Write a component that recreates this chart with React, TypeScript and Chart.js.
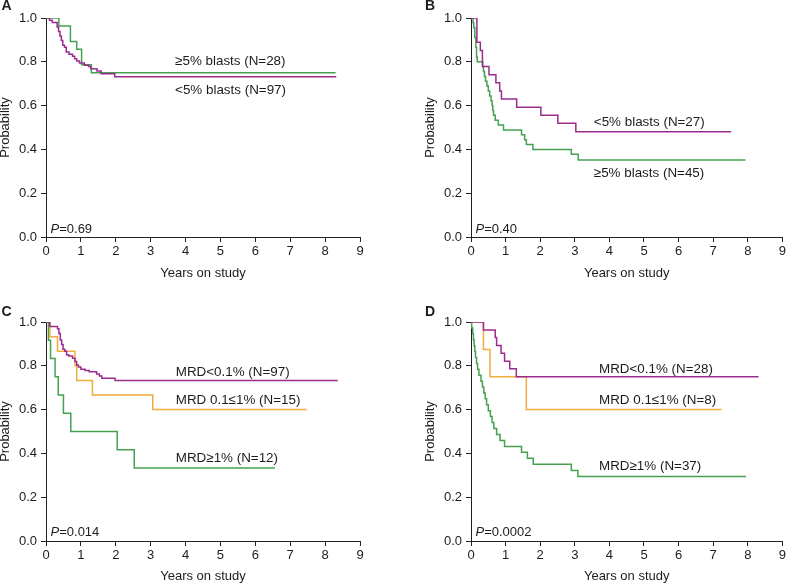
import React, { useEffect, useRef } from "react";
import { Chart, registerables } from "chart.js";

Chart.register(...registerables);

const FONT = '"Liberation Sans", Arial, Helvetica, sans-serif';
const TEXT = "#1c1c1c";
const MAGENTA = "#9b2b8d";
const GREEN = "#45a150";
const ORANGE = "#efab3d";

// ---------- data (years, survival probability) ----------
// Panel A
const aHighTimes = [0, 0.37, 0.7, 0.88, 1.02, 1.3, 8.3];
const aHighSurv = [1, 0.964, 0.893, 0.857, 0.786, 0.75, 0.75];
const aLowTimes = [0, 0.1, 0.18, 0.32, 0.36, 0.4, 0.44, 0.48, 0.53, 0.58, 0.66, 0.76, 0.82, 0.88, 0.96, 1.1, 1.22, 1.28, 1.46, 1.58, 1.97, 8.32];
const aLowSurv = [1, 0.99, 0.979, 0.959, 0.938, 0.918, 0.897, 0.876, 0.866, 0.845, 0.835, 0.825, 0.814, 0.804, 0.794, 0.784, 0.778, 0.768, 0.758, 0.745, 0.732, 0.732];

// Panel B
const bLowTimes = [0, 0.17, 0.27, 0.33, 0.52, 0.72, 0.83, 0.88, 1.32, 2.02, 2.51, 3.03, 7.52];
const bLowSurv = [1, 0.889, 0.852, 0.778, 0.741, 0.704, 0.667, 0.63, 0.593, 0.556, 0.519, 0.481, 0.481];
const bHighTimes = [0, 0.06, 0.08, 0.11, 0.14, 0.16, 0.18, 0.34, 0.36, 0.39, 0.42, 0.46, 0.5, 0.54, 0.58, 0.61, 0.63, 0.65, 0.7, 0.79, 0.94, 1.46, 1.55, 1.6, 1.79, 2.9, 3.1, 7.93];
const bHighSurv = [1, 0.978, 0.956, 0.911, 0.867, 0.822, 0.8, 0.778, 0.756, 0.733, 0.711, 0.689, 0.667, 0.644, 0.622, 0.6, 0.578, 0.556, 0.533, 0.511, 0.489, 0.467, 0.444, 0.422, 0.4, 0.378, 0.352, 0.352];

// Panel C
const cLowTimes = [0, 0.11, 0.33, 0.37, 0.41, 0.45, 0.49, 0.54, 0.59, 0.65, 0.76, 0.83, 0.88, 0.93, 1.0, 1.12, 1.24, 1.45, 1.53, 1.6, 1.98, 8.36];
const cLowSurv = [1, 0.98, 0.969, 0.948, 0.918, 0.897, 0.876, 0.866, 0.851, 0.845, 0.835, 0.82, 0.804, 0.794, 0.784, 0.778, 0.773, 0.763, 0.753, 0.743, 0.733, 0.733];
const cMidTimes = [0, 0.11, 0.33, 0.83, 0.88, 1.33, 3.06, 7.47];
const cMidSurv = [1, 0.933, 0.867, 0.8, 0.733, 0.667, 0.6, 0.6];
const cHighTimes = [0, 0.07, 0.13, 0.26, 0.35, 0.5, 0.71, 2.04, 2.53, 6.56];
const cHighSurv = [1, 0.917, 0.833, 0.75, 0.667, 0.583, 0.5, 0.417, 0.333, 0.333];

// Panel D
const dLowTimes = [0, 0.36, 0.7, 0.74, 0.87, 0.97, 1.12, 1.31, 8.31];
const dLowSurv = [1, 0.964, 0.929, 0.893, 0.857, 0.821, 0.786, 0.75, 0.75];
const dMidTimes = [0, 0.36, 0.55, 1.6, 7.24];
const dMidSurv = [1, 0.875, 0.75, 0.6, 0.6];
const dHighTimes = [0, 0.02, 0.05, 0.07, 0.09, 0.11, 0.13, 0.16, 0.19, 0.23, 0.29, 0.33, 0.37, 0.41, 0.45, 0.5, 0.56, 0.61, 0.66, 0.74, 0.84, 0.97, 1.46, 1.63, 1.8, 2.9, 3.09, 7.95];
const dHighSurv = [1, 0.973, 0.946, 0.919, 0.892, 0.865, 0.838, 0.811, 0.784, 0.757, 0.73, 0.703, 0.676, 0.649, 0.622, 0.595, 0.568, 0.541, 0.514, 0.486, 0.459, 0.432, 0.405, 0.378, 0.351, 0.322, 0.295, 0.295];

// axis
const xMin = 0;
const xMax = 9;
const xStep = 1;
const yMin = 0;
const yMax = 1;
const yStep = 0.2;
const xTitle = "Years on study";
const yTitle = "Probability";

type Series = { times: number[]; surv: number[]; color: string };
type Label = { text: string; x: number; y: number };
type PanelCfg = {
  left: number;
  top: number;
  padL: number;
  padR: number;
  padT: number;
  xHeight: number;
  xTitlePad: number;
  letter: string;
  letterX: number;
  letterY: number;
  series: Series[];
  labels: Label[];
  p: { value: string; x: number; y: number };
};

const panels: PanelCfg[] = [
  {
    left: 0, top: 0, padL: 0, padR: 34, padT: 18, xHeight: 55, xTitlePad: 11,
    letter: "A", letterX: 1.5, letterY: 10,
    series: [
      { times: aLowTimes, surv: aLowSurv, color: MAGENTA },
      { times: aHighTimes, surv: aHighSurv, color: GREEN },
    ],
    labels: [
      { text: "≥5% blasts (N=28)", x: 3.7, y: 0.8 },
      { text: "<5% blasts (N=97)", x: 3.7, y: 0.671 },
    ],
    p: { value: "0.69", x: 0.13, y: 0.035 },
  },
  {
    left: 394, top: 0, padL: 31, padR: 4, padT: 18, xHeight: 55, xTitlePad: 11,
    letter: "B", letterX: 31, letterY: 10,
    series: [
      { times: bLowTimes, surv: bLowSurv, color: MAGENTA },
      { times: bHighTimes, surv: bHighSurv, color: GREEN },
    ],
    labels: [
      { text: "<5% blasts (N=27)", x: 3.55, y: 0.524 },
      { text: "≥5% blasts (N=45)", x: 3.55, y: 0.291 },
    ],
    p: { value: "0.40", x: 0.13, y: 0.035 },
  },
  {
    left: 0, top: 292, padL: 0, padR: 34, padT: 30, xHeight: 43, xTitlePad: 0,
    letter: "C", letterX: 1.5, letterY: 24,
    series: [
      { times: cLowTimes, surv: cLowSurv, color: MAGENTA },
      { times: cMidTimes, surv: cMidSurv, color: ORANGE },
      { times: cHighTimes, surv: cHighSurv, color: GREEN },
    ],
    labels: [
      { text: "MRD<0.1% (N=97)", x: 3.72, y: 0.772 },
      { text: "MRD 0.1≤1% (N=15)", x: 3.72, y: 0.642 },
      { text: "MRD≥1% (N=12)", x: 3.72, y: 0.379 },
    ],
    p: { value: "0.014", x: 0.13, y: 0.041 },
  },
  {
    left: 394, top: 292, padL: 31, padR: 4, padT: 30, xHeight: 43, xTitlePad: 0,
    letter: "D", letterX: 31, letterY: 24,
    series: [
      { times: dLowTimes, surv: dLowSurv, color: MAGENTA },
      { times: dMidTimes, surv: dMidSurv, color: ORANGE },
      { times: dHighTimes, surv: dHighSurv, color: GREEN },
    ],
    labels: [
      { text: "MRD<0.1% (N=28)", x: 3.7, y: 0.784 },
      { text: "MRD 0.1≤1% (N=8)", x: 3.7, y: 0.642 },
      { text: "MRD≥1% (N=37)", x: 3.7, y: 0.341 },
    ],
    p: { value: "0.0002", x: 0.13, y: 0.041 },
  },
];

function KMPanel({ cfg }: { cfg: PanelCfg }) {
  const ref = useRef<HTMLCanvasElement>(null);
  useEffect(() => {
    const canvas = ref.current;
    if (!canvas) return;
    const textPlugin = {
      id: "kmText" + cfg.letter,
      afterDraw(chart: any) {
        const { ctx } = chart;
        const xs = chart.scales.x;
        const ys = chart.scales.y;
        ctx.save();
        ctx.fillStyle = TEXT;
        ctx.textAlign = "left";
        ctx.textBaseline = "middle";
        ctx.font = `13.4px ${FONT}`;
        for (const l of cfg.labels) {
          ctx.fillText(l.text, xs.getPixelForValue(l.x), ys.getPixelForValue(l.y));
        }
        const px = xs.getPixelForValue(cfg.p.x);
        const py = ys.getPixelForValue(cfg.p.y);
        ctx.font = `italic 13px ${FONT}`;
        ctx.fillText("P", px, py);
        const w = ctx.measureText("P").width;
        ctx.font = `13px ${FONT}`;
        ctx.fillText("=" + cfg.p.value, px + w, py);
        ctx.font = `bold 14px ${FONT}`;
        ctx.textBaseline = "alphabetic";
        ctx.fillText(cfg.letter, cfg.letterX, cfg.letterY);
        ctx.restore();
      },
    };
    const chart = new Chart(canvas, {
      type: "line",
      data: {
        datasets: cfg.series.map((s) => ({
          data: s.times.map((t, i) => ({ x: t, y: s.surv[i] })),
          borderColor: s.color,
          backgroundColor: s.color,
          borderWidth: 1.5,
          pointRadius: 0,
          stepped: "before" as const,
          fill: false,
        })),
      },
      options: {
        animation: false,
        responsive: false,
        maintainAspectRatio: false,
        layout: { padding: { left: cfg.padL, right: cfg.padR, top: cfg.padT, bottom: 0 } },
        plugins: { legend: { display: false }, tooltip: { enabled: false } },
        scales: {
          x: {
            type: "linear",
            min: xMin,
            max: xMax,
            afterFit: (s: any) => {
              s.height = cfg.xHeight;
            },
            ticks: {
              stepSize: xStep,
              autoSkip: false,
              maxRotation: 0,
              padding: 2,
              color: TEXT,
              font: { family: FONT, size: 13 },
            },
            grid: { drawOnChartArea: false, drawTicks: true, tickLength: 5, color: "#222" },
            border: { display: true, color: "#222", width: 1 },
            title: {
              display: true,
              text: xTitle,
              color: TEXT,
              font: { family: FONT, size: 13, lineHeight: 1.2 },
              padding: { top: 0, bottom: cfg.xTitlePad },
            },
          },
          y: {
            type: "linear",
            min: yMin,
            max: yMax,
            afterFit: (s: any) => {
              s.width = 46;
            },
            ticks: {
              stepSize: yStep,
              padding: 4,
              color: TEXT,
              font: { family: FONT, size: 13 },
              callback: (v: any) => Number(v).toFixed(1),
            },
            grid: { drawOnChartArea: false, drawTicks: true, tickLength: 5, color: "#222" },
            border: { display: true, color: "#222", width: 1 },
            title: {
              display: true,
              text: yTitle,
              color: TEXT,
              font: { family: FONT, size: 13, lineHeight: 1 },
              padding: { top: -1, bottom: 0 },
            },
          },
        },
      },
      plugins: [textPlugin],
    } as any);
    return () => chart.destroy();
  }, [cfg]);
  return (
    <canvas
      ref={ref}
      width={394}
      height={292}
      style={{ position: "absolute", left: cfg.left, top: cfg.top, width: 394, height: 292 }}
    />
  );
}

export default function App() {
  return (
    <div style={{ position: "fixed", left: 0, top: 0, width: 788, height: 584, background: "#fff", overflow: "hidden" }}>
      {panels.map((p) => (
        <KMPanel key={p.letter} cfg={p} />
      ))}
    </div>
  );
}
